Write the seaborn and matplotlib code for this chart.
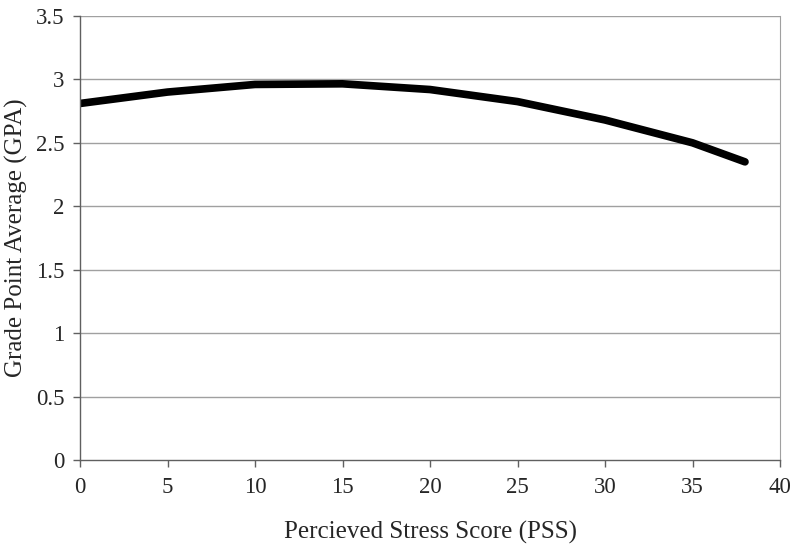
import matplotlib
matplotlib.use("Agg")
import matplotlib.pyplot as plt
import seaborn as sns
import pandas as pd

# data
pss = [0, 5, 10, 15, 20, 25, 30, 35, 38]
gpa = [2.81, 2.90, 2.96, 2.965, 2.92, 2.825, 2.68, 2.50, 2.35]
x_ticks = [0, 5, 10, 15, 20, 25, 30, 35, 40]
y_ticks = [0, 0.5, 1, 1.5, 2, 2.5, 3, 3.5]

sns.set_style("white")
plt.rcParams['font.family'] = ['Liberation Serif', 'DejaVu Serif']

df = pd.DataFrame({"PSS": pss, "GPA": gpa})

fig = plt.figure(figsize=(8, 5.49), dpi=100)
ax = fig.add_axes([0.1, 0.162, 0.875, 0.809])

for y in y_ticks[1:]:
    ax.axhline(y, color="#a0a0a0", lw=1, zorder=0)

sns.lineplot(data=df, x="PSS", y="GPA", ax=ax, color="black", linewidth=5.5,
             solid_capstyle="round", solid_joinstyle="round")

ax.set_xlim(0, 40)
ax.set_ylim(0, 3.5)
ax.set_xticks(x_ticks)
ax.set_yticks(y_ticks)
ax.set_yticklabels([f"{v:g}" for v in y_ticks])
ax.tick_params(axis="both", labelsize=16.5, length=5, width=1, color="#606060",
               direction="out", bottom=True, left=True)
ax.tick_params(axis="x", pad=7)
ax.tick_params(axis="y", pad=6)
ax.set_xlabel("Percieved Stress Score (PSS)", fontsize=18, labelpad=17)
ax.set_ylabel("Grade Point Average (GPA)", fontsize=18, labelpad=6)

for side in ["left", "bottom"]:
    ax.spines[side].set_color("#606060")
    ax.spines[side].set_linewidth(1)
ax.spines["right"].set_color("#a0a0a0")
ax.spines["top"].set_visible(False)

fig.savefig("out.png", dpi=100)
